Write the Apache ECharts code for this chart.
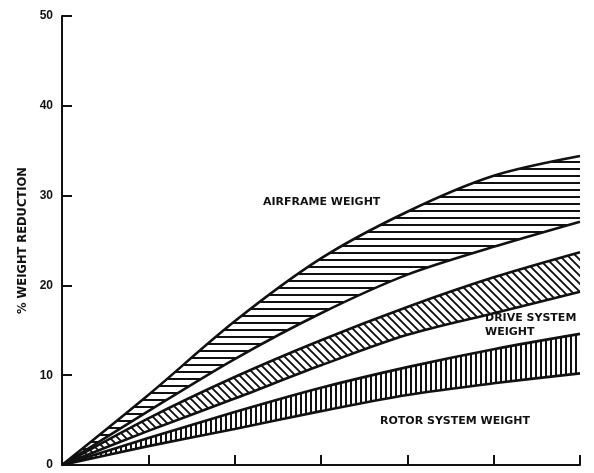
<!DOCTYPE html>
<html><head><meta charset="utf-8">
<script src="https://cdn.jsdelivr.net/npm/echarts@6/dist/echarts.min.js"></script>
<style>html,body{margin:0;padding:0;background:#fff}#c{width:594px;height:473px}</style>
</head><body><div id="c"></div>
<script>
// x positions (unlabelled axis, ticks at each unit)
const xValues = [0, 1, 2, 3, 4, 5, 6];
// % weight reduction bands (upper / lower boundary of each band)
const airframeUpper = [0, 7.8, 16.0, 23.0, 28.2, 32.2, 34.4];
const airframeLower = [0, 6.0, 11.8, 16.9, 21.2, 24.3, 27.1];
const driveUpper    = [0, 5.2, 9.8, 13.9, 17.6, 20.9, 23.7];
const driveLower    = [0, 3.8, 7.4, 11.1, 14.5, 16.9, 19.3];
const rotorUpper    = [0, 3.0, 5.9, 8.6, 10.9, 12.9, 14.6];
const rotorLower    = [0, 2.1, 4.0, 6.0, 7.8, 9.1, 10.2];
const yTicks = [0, 10, 20, 30, 40, 50];
const yTitle = '% WEIGHT REDUCTION';
const bandLabels = ['AIRFRAME WEIGHT', 'DRIVE SYSTEM\nWEIGHT', 'ROTOR SYSTEM WEIGHT'];

function pattern(kind) {
  const c = document.createElement('canvas');
  let w = 8, h = 8;
  if (kind === 'h') { w = 8; h = 7; }
  else if (kind === 'v') { w = 5; h = 8; }
  c.width = w; c.height = h;
  const ctx = c.getContext('2d');
  ctx.fillStyle = '#ffffff';
  ctx.fillRect(0, 0, w, h);
  ctx.fillStyle = '#111111';
  ctx.strokeStyle = '#111111';
  if (kind === 'h') {
    ctx.fillRect(0, 0, w, 2);
  } else if (kind === 'v') {
    ctx.fillRect(0, 0, 2, h);
  } else {
    const s = w;
    ctx.lineWidth = 1.9;
    ctx.beginPath();
    ctx.moveTo(-s, 0); ctx.lineTo(s, 2 * s);
    ctx.moveTo(0, 0); ctx.lineTo(s, s);
    ctx.moveTo(0, -s); ctx.lineTo(2 * s, s);
    ctx.stroke();
  }
  return { image: c, repeat: 'repeat' };
}

function diff(a, b) { return a.map((v, i) => +(v - b[i]).toFixed(3)); }

const lineStyle = { color: '#111', width: 2.6 };
function band(name, lower, upper, pat) {
  return [
    { name: name + ' lower', type: 'line', stack: name, data: lower.slice(), smooth: 0.3,
      symbol: 'none', lineStyle, silent: true, z: 3 },
    { name: name + ' band', type: 'line', stack: name, data: diff(upper, lower), smooth: 0.3,
      symbol: 'none', lineStyle, silent: true, z: 3,
      areaStyle: { color: pattern(pat), opacity: 1 } }
  ];
}

const chart = echarts.init(document.getElementById('c'), null, { renderer: 'canvas' });
const font = 'bold 11px "DejaVu Sans"';
chart.setOption({
  backgroundColor: '#fff',
  animation: false,
  grid: { left: 62, top: 16, width: 518, height: 449 },
  xAxis: {
    type: 'category', data: xValues.map(String), boundaryGap: false,
    axisLine: { show: true, lineStyle: { color: '#111', width: 2 } },
    axisTick: { show: true, inside: true, length: 10, lineStyle: { color: '#111', width: 2 } },
    axisLabel: { show: false },
    splitLine: { show: false }
  },
  yAxis: {
    type: 'value', min: yTicks[0], max: yTicks[yTicks.length - 1], interval: 10,
    name: yTitle, nameLocation: 'middle', nameRotate: 90, nameGap: 33,
    nameTextStyle: { fontFamily: 'DejaVu Sans', fontWeight: 'bold', fontSize: 11.5, color: '#111' },
    axisLine: { show: true, lineStyle: { color: '#111', width: 2 } },
    axisTick: { show: true, inside: true, length: 10, lineStyle: { color: '#111', width: 2 } },
    axisLabel: { fontFamily: 'Liberation Sans', fontWeight: 'bold', fontSize: 12, color: '#111', margin: 9 },
    splitLine: { show: false }
  },
  series: [
    ...band('rotor', rotorLower, rotorUpper, 'v'),
    ...band('drive', driveLower, driveUpper, 'd'),
    ...band('airframe', airframeLower, airframeUpper, 'h')
  ],
  graphic: [
    { type: 'text', x: 263, y: 202, style: { text: bandLabels[0], font, fill: '#111', verticalAlign: 'middle' } },
    { type: 'text', x: 485, y: 325, style: { text: bandLabels[1], font, fill: '#111', verticalAlign: 'middle', lineHeight: 14 } },
    { type: 'text', x: 380, y: 421, style: { text: bandLabels[2], font, fill: '#111', verticalAlign: 'middle' } }
  ]
});
</script>
</body></html>
